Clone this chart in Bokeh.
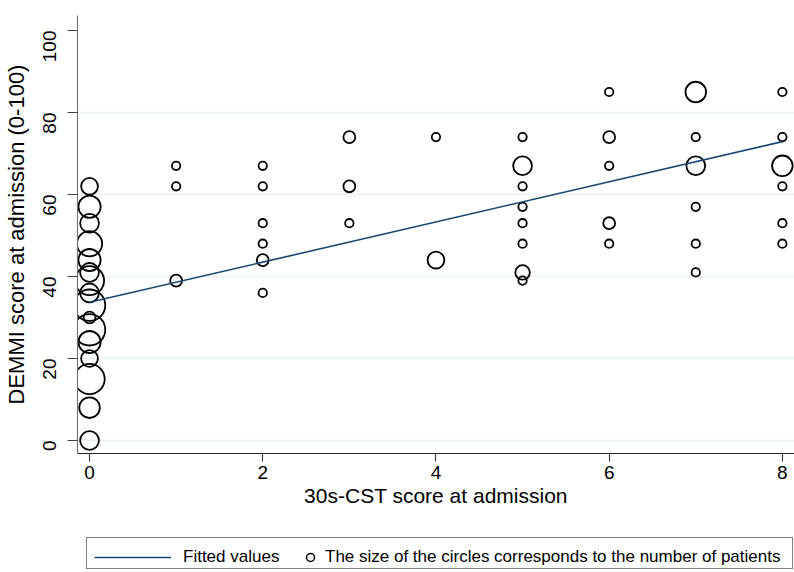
import math
from bokeh.plotting import figure
from bokeh.layouts import column
from bokeh.models import Range1d, FixedTicker, Legend, LegendItem, ColumnDataSource
from bokeh.embed import file_html
from bokeh.resources import INLINE

# ---- data ----
cst_score = [0] * 16 + [1] * 3 + [2] * 6 + [3] * 3 + [4] * 2 + [5] * 8 + [6] * 5 + [7] * 6 + [8] * 6
demmi_score = (
    [0, 8, 15, 20, 24, 27, 30, 33, 36, 39, 41, 44, 48, 53, 57, 62]
    + [39, 62, 67]
    + [36, 44, 48, 53, 62, 67]
    + [53, 62, 74]
    + [44, 74]
    + [39, 41, 48, 53, 57, 62, 67, 74]
    + [48, 53, 67, 74, 85]
    + [41, 48, 57, 67, 74, 85]
    + [48, 53, 62, 67, 74, 85]
)
n_patients = (
    [5, 6, 13, 4, 7, 14, 2, 14, 5, 12, 5, 7, 9, 5, 7, 4]
    + [2, 1, 1]
    + [1, 2, 1, 1, 1, 1]
    + [1, 2, 2]
    + [4, 1]
    + [1, 3, 1, 1, 1, 1, 5, 1]
    + [1, 2, 1, 2, 1]
    + [1, 1, 1, 5, 1, 6]
    + [1, 1, 1, 6, 1, 1]
)
fit_x = [0, 8]
fit_y = [33.7, 72.9]

x_ticks = [0, 2, 4, 6, 8]
y_ticks = [0, 20, 40, 60, 80, 100]
y_grid = [0, 20, 40, 60, 80]

legend_labels = ["Fitted values",
                 "The size of the circles corresponds to the number of patients"]

FONT = "Liberation Sans"
FIT_COLOR = "#1a476f"
NAN = float("nan")

p = figure(
    width=794, height=534,
    x_range=Range1d(-0.139, 8.14), y_range=Range1d(-3.17, 103.66),
    output_backend="svg", toolbar_location=None,
    min_border_left=77, min_border_right=0, min_border_top=15, min_border_bottom=81,
    background_fill_color="white", border_fill_color="white",
)
p.outline_line_color = None

# grid
p.xgrid.visible = False
p.ygrid.ticker = FixedTicker(ticks=y_grid)
p.ygrid.grid_line_color = "#eaf2f3"
p.ygrid.grid_line_width = 1.5

# axes
p.xaxis.ticker = FixedTicker(ticks=x_ticks)
p.yaxis.ticker = FixedTicker(ticks=y_ticks)
for ax in (p.xaxis[0], p.yaxis[0]):
    ax.minor_tick_line_color = None
    ax.major_tick_in = 0
    ax.major_tick_line_color = "#444444"
    ax.major_tick_line_width = 1.2
    ax.axis_line_color = "#222222"
    ax.axis_line_width = 1.2
    ax.major_label_text_font = FONT
    ax.major_label_text_font_size = "19px"
    ax.major_label_text_color = "black"
    ax.axis_label_text_font = FONT
    ax.axis_label_text_font_style = "normal"
    ax.axis_label_text_color = "black"
p.xaxis.axis_label_text_font_size = "21px"
p.yaxis.axis_label_text_font_size = "22px"
p.yaxis.axis_line_color = "#777777"
p.xaxis.axis_label = "30s-CST score at admission"
p.yaxis.axis_label = "DEMMI score at admission (0-100)"
p.yaxis.major_label_orientation = math.pi / 2
p.xaxis.major_tick_out = 8
p.yaxis.major_tick_out = 10
p.xaxis.major_label_standoff = 4
p.xaxis.axis_label_standoff = 2
p.yaxis.major_label_standoff = 18
p.yaxis.axis_label_standoff = 5

# data
src = ColumnDataSource(dict(
    x=cst_score, y=demmi_score, n=n_patients,
    s=[8.4 * math.sqrt(v) for v in n_patients],
))
p.scatter("x", "y", size="s", source=src, marker="circle",
          fill_color=None, line_color="black", line_width=1.8)
p.line(fit_x, fit_y, line_color=FIT_COLOR, line_width=1.6)

# ---- legend strip (separate small figure below, frame aligned with the plot) ----
lg = figure(
    width=794, height=38, x_range=Range1d(0, 1), y_range=Range1d(0, 1),
    output_backend="svg", toolbar_location=None,
    x_axis_type=None, y_axis_type=None,
    min_border_left=0, min_border_right=0, min_border_top=0, min_border_bottom=0,
    background_fill_color="white", border_fill_color="white",
)
lg.outline_line_color = None
lg.xgrid.visible = False
lg.ygrid.visible = False

# legend proxies: NaN data so nothing is drawn in the strip itself
blank_r = lg.scatter([NAN], [NAN], size=1, line_alpha=0, fill_alpha=0)
fit_leg_r = lg.line([NAN], [NAN], line_color=FIT_COLOR, line_width=1.6)
circle_leg_r = lg.scatter([NAN], [NAN], marker="circle", fill_color=None,
                          line_color="black", line_width=1.5)

common = dict(orientation="horizontal", margin=0, glyph_height=20, label_height=20,
              label_text_font=FONT, label_text_font_size="17px",
              label_text_color="black")

# the legend frame
legend_box = Legend(
    items=[LegendItem(label=" ", renderers=[blank_r])],
    location=(9, 3), glyph_width=20, label_standoff=0, label_width=675,
    spacing=0, padding=5,
    border_line_color="black", border_line_width=1,
    background_fill_color="white", background_fill_alpha=1,
    **common,
)
# the two keys, drawn over the frame
legend_fit = Legend(
    items=[LegendItem(label=legend_labels[0], renderers=[fit_leg_r])],
    location=(17, 5), glyph_width=77, label_standoff=12, spacing=0, padding=0,
    border_line_color=None, background_fill_alpha=0,
    **common,
)
legend_size = Legend(
    items=[LegendItem(label=legend_labels[1], renderers=[circle_leg_r])],
    location=(223, 5), glyph_width=20, label_standoff=5, spacing=0, padding=0,
    border_line_color=None, background_fill_alpha=0,
    **common,
)
lg.add_layout(legend_box, "center")
lg.add_layout(legend_fit, "center")
lg.add_layout(legend_size, "center")

layout = column(p, lg, spacing=0)
open("out.html", "w").write(file_html(layout, INLINE))
